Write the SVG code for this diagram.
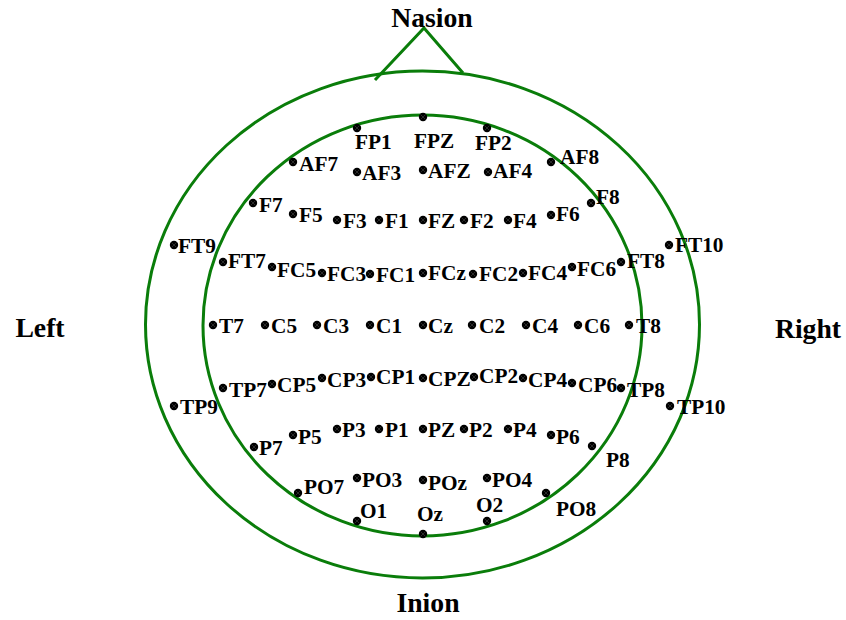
<svg xmlns="http://www.w3.org/2000/svg" xmlns:xlink="http://www.w3.org/1999/xlink" width="846" height="620" viewBox="0 0 846 620">
<style>
.hd{fill:none;stroke:#0a7d0a;stroke-width:3}
.lb{font-family:"Liberation Serif","Times New Roman",serif;font-weight:bold;font-size:21.3px;fill:#000}
.tt{font-family:"Liberation Serif","Times New Roman",serif;font-weight:bold;font-size:27.7px;fill:#000}
.xl{stroke:#555;stroke-width:0.5}
</style>
<defs>
<g id="d"><circle r="4.2" fill="#000"/><path class="xl" d="M-2.4,-2.4L2.4,2.4M-2.4,2.4L2.4,-2.4"/></g>
</defs>
<rect width="846" height="620" fill="#fff"/>
<g id="head">
<ellipse class="hd" cx="422.5" cy="324.5" rx="277" ry="253.5"/>
<ellipse class="hd" cx="422.5" cy="325.5" rx="219.5" ry="210.5"/>
</g>
<g id="connectors">
<polyline class="hd" points="375,80 424,28 463,73"/>
</g>
<g id="titles">
<text class="tt" x="432" y="27" text-anchor="middle">Nasion</text>
<text class="tt" x="40" y="337" text-anchor="middle">Left</text>
<text class="tt" x="808" y="338" text-anchor="middle">Right</text>
<text class="tt" x="428" y="612" text-anchor="middle">Inion</text>
</g>
<g id="FP1"><use xlink:href="#d" x="357" y="128"/><text class="lb" x="355" y="149">FP1</text></g>
<g id="FPZ"><use xlink:href="#d" x="423" y="117"/><text class="lb" x="414" y="148">FPZ</text></g>
<g id="FP2"><use xlink:href="#d" x="487" y="128"/><text class="lb" x="475" y="150">FP2</text></g>
<g id="AF7"><use xlink:href="#d" x="293" y="162"/><text class="lb" x="299" y="171">AF7</text></g>
<g id="AF3"><use xlink:href="#d" x="357" y="172"/><text class="lb" x="362" y="180">AF3</text></g>
<g id="AFZ"><use xlink:href="#d" x="423" y="170"/><text class="lb" x="428" y="178">AFZ</text></g>
<g id="AF4"><use xlink:href="#d" x="488" y="172"/><text class="lb" x="493" y="178">AF4</text></g>
<g id="AF8"><use xlink:href="#d" x="551" y="162"/><text class="lb" x="560" y="164">AF8</text></g>
<g id="F7"><use xlink:href="#d" x="253" y="203"/><text class="lb" x="259" y="212">F7</text></g>
<g id="F5"><use xlink:href="#d" x="293" y="214"/><text class="lb" x="299" y="222">F5</text></g>
<g id="F3"><use xlink:href="#d" x="337" y="220"/><text class="lb" x="343" y="228">F3</text></g>
<g id="F1"><use xlink:href="#d" x="379" y="220"/><text class="lb" x="385" y="228">F1</text></g>
<g id="FZ"><use xlink:href="#d" x="423" y="220"/><text class="lb" x="428" y="228">FZ</text></g>
<g id="F2"><use xlink:href="#d" x="464" y="220"/><text class="lb" x="470" y="228">F2</text></g>
<g id="F4"><use xlink:href="#d" x="508" y="220"/><text class="lb" x="513" y="228">F4</text></g>
<g id="F6"><use xlink:href="#d" x="551" y="215"/><text class="lb" x="556" y="221">F6</text></g>
<g id="F8"><use xlink:href="#d" x="591" y="203"/><text class="lb" x="596" y="204">F8</text></g>
<g id="FT9"><use xlink:href="#d" x="174" y="245"/><text class="lb" x="178" y="253">FT9</text></g>
<g id="FT7"><use xlink:href="#d" x="223" y="262"/><text class="lb" x="228" y="268">FT7</text></g>
<g id="FC5"><use xlink:href="#d" x="272" y="267"/><text class="lb" x="277" y="277">FC5</text></g>
<g id="FC3"><use xlink:href="#d" x="322" y="273"/><text class="lb" x="327" y="281">FC3</text></g>
<g id="FC1"><use xlink:href="#d" x="370" y="274"/><text class="lb" x="376" y="282">FC1</text></g>
<g id="FCz"><use xlink:href="#d" x="423" y="273"/><text class="lb" x="428" y="280">FCz</text></g>
<g id="FC2"><use xlink:href="#d" x="473" y="274"/><text class="lb" x="479" y="281">FC2</text></g>
<g id="FC4"><use xlink:href="#d" x="523" y="273"/><text class="lb" x="528" y="280">FC4</text></g>
<g id="FC6"><use xlink:href="#d" x="572" y="267"/><text class="lb" x="577" y="276">FC6</text></g>
<g id="FT8"><use xlink:href="#d" x="621" y="262"/><text class="lb" x="627" y="268">FT8</text></g>
<g id="FT10"><use xlink:href="#d" x="669" y="245"/><text class="lb" x="675" y="252">FT10</text></g>
<g id="T7"><use xlink:href="#d" x="213" y="325"/><text class="lb" x="219" y="333">T7</text></g>
<g id="C5"><use xlink:href="#d" x="265" y="325"/><text class="lb" x="271" y="333">C5</text></g>
<g id="C3"><use xlink:href="#d" x="317" y="325"/><text class="lb" x="323" y="333">C3</text></g>
<g id="C1"><use xlink:href="#d" x="370" y="325"/><text class="lb" x="376" y="333">C1</text></g>
<g id="Cz"><use xlink:href="#d" x="423" y="325"/><text class="lb" x="428" y="333">Cz</text></g>
<g id="C2"><use xlink:href="#d" x="472" y="325"/><text class="lb" x="479" y="333">C2</text></g>
<g id="C4"><use xlink:href="#d" x="526" y="325"/><text class="lb" x="532" y="333">C4</text></g>
<g id="C6"><use xlink:href="#d" x="578" y="325"/><text class="lb" x="584" y="333">C6</text></g>
<g id="T8"><use xlink:href="#d" x="629" y="325"/><text class="lb" x="636" y="333">T8</text></g>
<g id="TP9"><use xlink:href="#d" x="174" y="406"/><text class="lb" x="180" y="414">TP9</text></g>
<g id="TP7"><use xlink:href="#d" x="223" y="388"/><text class="lb" x="229" y="397">TP7</text></g>
<g id="CP5"><use xlink:href="#d" x="272" y="384"/><text class="lb" x="277" y="392">CP5</text></g>
<g id="CP3"><use xlink:href="#d" x="322" y="378"/><text class="lb" x="327" y="387">CP3</text></g>
<g id="CP1"><use xlink:href="#d" x="371" y="377"/><text class="lb" x="376" y="384">CP1</text></g>
<g id="CPZ"><use xlink:href="#d" x="423" y="378"/><text class="lb" x="428" y="386">CPZ</text></g>
<g id="CP2"><use xlink:href="#d" x="474" y="377"/><text class="lb" x="479" y="383">CP2</text></g>
<g id="CP4"><use xlink:href="#d" x="523" y="378"/><text class="lb" x="528" y="387">CP4</text></g>
<g id="CP6"><use xlink:href="#d" x="572" y="383"/><text class="lb" x="578" y="392">CP6</text></g>
<g id="TP8"><use xlink:href="#d" x="621" y="388"/><text class="lb" x="627" y="397">TP8</text></g>
<g id="TP10"><use xlink:href="#d" x="670" y="406"/><text class="lb" x="677" y="414">TP10</text></g>
<g id="P7"><use xlink:href="#d" x="254" y="447"/><text class="lb" x="259" y="455">P7</text></g>
<g id="P5"><use xlink:href="#d" x="293" y="435"/><text class="lb" x="298" y="444">P5</text></g>
<g id="P3"><use xlink:href="#d" x="337" y="429"/><text class="lb" x="342" y="437">P3</text></g>
<g id="P1"><use xlink:href="#d" x="379" y="429"/><text class="lb" x="385" y="437">P1</text></g>
<g id="PZ"><use xlink:href="#d" x="423" y="429"/><text class="lb" x="428" y="437">PZ</text></g>
<g id="P2"><use xlink:href="#d" x="464" y="429"/><text class="lb" x="469" y="437">P2</text></g>
<g id="P4"><use xlink:href="#d" x="508" y="429"/><text class="lb" x="513" y="437">P4</text></g>
<g id="P6"><use xlink:href="#d" x="551" y="435"/><text class="lb" x="556" y="444">P6</text></g>
<g id="P8"><use xlink:href="#d" x="592" y="446"/><text class="lb" x="606" y="467">P8</text></g>
<g id="PO7"><use xlink:href="#d" x="298" y="493"/><text class="lb" x="304" y="494">PO7</text></g>
<g id="PO3"><use xlink:href="#d" x="357" y="478"/><text class="lb" x="362" y="487">PO3</text></g>
<g id="POz"><use xlink:href="#d" x="423" y="480"/><text class="lb" x="428" y="490">POz</text></g>
<g id="PO4"><use xlink:href="#d" x="487" y="478"/><text class="lb" x="492" y="487">PO4</text></g>
<g id="PO8"><use xlink:href="#d" x="546" y="493"/><text class="lb" x="556" y="516">PO8</text></g>
<g id="O1"><use xlink:href="#d" x="357" y="521"/><text class="lb" x="360" y="518">O1</text></g>
<g id="Oz"><use xlink:href="#d" x="423" y="534"/><text class="lb" x="417" y="521">Oz</text></g>
<g id="O2"><use xlink:href="#d" x="487" y="521"/><text class="lb" x="476" y="512">O2</text></g>
</svg>
